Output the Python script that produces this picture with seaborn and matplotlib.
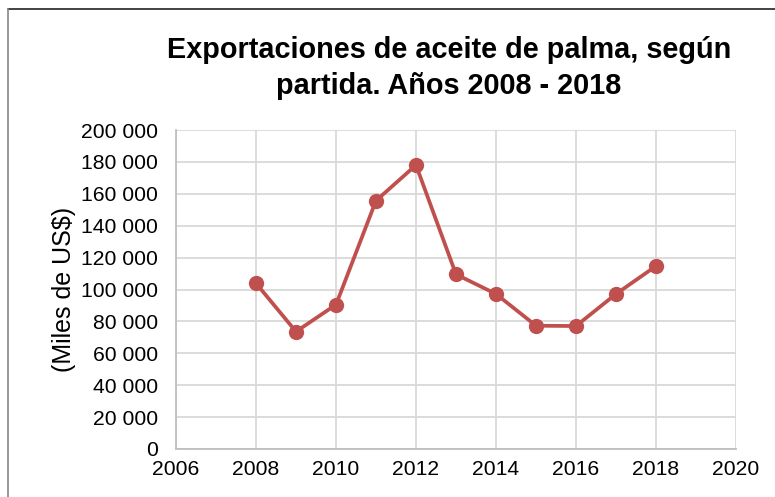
import matplotlib
matplotlib.use("Agg")
import matplotlib.pyplot as plt
import seaborn as sns
import pandas as pd
from matplotlib.lines import Line2D
from matplotlib.ticker import FuncFormatter, MultipleLocator

years = [2008, 2009, 2010, 2011, 2012, 2013, 2014, 2015, 2016, 2017, 2018]
values = [103900, 73600, 90500, 155700, 178000, 109500, 97200, 77300, 77100, 97200, 114700]

title = "Exportaciones de aceite de palma, según\npartida. Años 2008 - 2018"
ylabel = "(Miles de US$)"

sns.set_style("white")
plt.rcParams['font.family'] = ['Liberation Sans', 'DejaVu Sans']
plt.rcParams['text.color'] = 'black'
plt.rcParams['axes.labelcolor'] = 'black'

df = pd.DataFrame({"year": years, "value": values})

W, H = 775, 497
fig = plt.figure(figsize=(W / 100, H / 100), dpi=100)
ax = fig.add_axes([176 / W, 1 - 449 / H, (736 - 176) / W, (449 - 130) / H])

sns.lineplot(data=df, x="year", y="value", ax=ax, color="#C0504D",
             linewidth=2.7, marker="o", markersize=11, markeredgewidth=0,
             zorder=3)

ax.set_xlim(2006, 2020)
ax.set_ylim(0, 200000)
ax.xaxis.set_major_locator(MultipleLocator(2))
ax.yaxis.set_major_locator(MultipleLocator(20000))
ax.yaxis.set_major_formatter(FuncFormatter(lambda v, p: f"{int(v):,}".replace(",", " ")))
ax.grid(True, color="#D9D9D9", linewidth=1.3)
ax.set_axisbelow(True)
for s in ["top", "right"]:
    ax.spines[s].set_visible(False)
for s in ["left", "bottom"]:
    ax.spines[s].set_color("#BFBFBF")
    ax.spines[s].set_linewidth(1.3)
ax.tick_params(axis="both", length=0, labelsize=15.2, colors="black")
ax.tick_params(axis="y", pad=13)
ax.tick_params(axis="x", pad=8)
ax.set_xlabel("")
ax.set_ylabel(ylabel, fontsize=18, color="black")
ax.yaxis.set_label_coords((76 - 176) / (736 - 176), 0.5)

fig.text(449 / W, 1 - 68 / H, title, ha="center", va="center",
         fontsize=20.8, fontweight="bold", linespacing=1.35, color="black")

# figure frame
fig.add_artist(Line2D([8 / W, 1], [1 - 9 / H, 1 - 9 / H], color="#222222", linewidth=1.2,
                      transform=fig.transFigure))
fig.add_artist(Line2D([8 / W, 8 / W], [0, 1 - 9 / H], color="#888888", linewidth=1.2,
                      transform=fig.transFigure))

fig.savefig("out.png", dpi=100)
